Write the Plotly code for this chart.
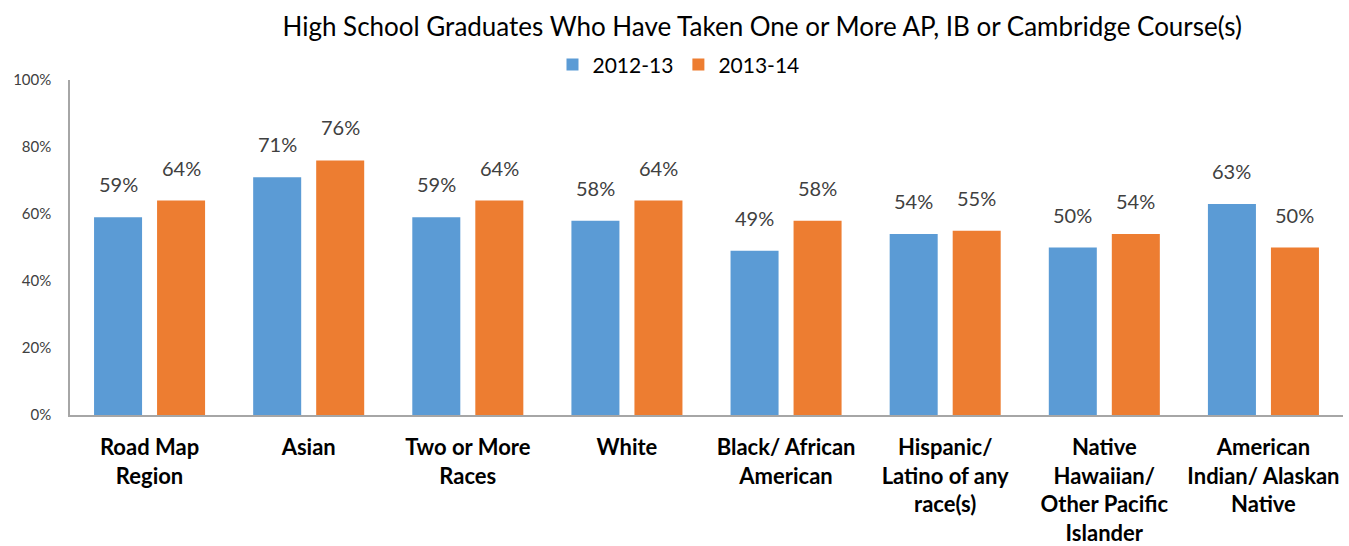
import plotly.graph_objects as go

categories = ["Road Map<br>Region", "Asian", "Two or More<br>Races", "White",
              "Black/ African<br>American", "Hispanic/<br>Latino of any<br>race(s)",
              "Native<br>Hawaiian/<br>Other Pacific<br>Islander", "American<br>Indian/ Alaskan<br>Native"]
series_names = ["2012-13", "2013-14"]
values_2012 = [59, 71, 59, 58, 49, 54, 50, 63]
values_2013 = [64, 76, 64, 64, 58, 55, 54, 50]
y_ticks = [0, 20, 40, 60, 80, 100]
y_tick_labels = ["0%", "20%", "40%", "60%", "80%", "100%"]

colors = ["#5b9bd5", "#ed7d31"]
FONT = "Lato"
label_xshift = [-31.5, 31.5]

fig = go.Figure()
for name, vals, col, xs in zip(series_names, [values_2012, values_2013], colors, label_xshift):
    fig.add_trace(go.Bar(
        x=categories, y=vals, name=name, marker=dict(color=col, line=dict(width=0)),
    ))
    for c, v in zip(categories, vals):
        fig.add_annotation(x=c, y=v, xref="x", yref="y", text=f"{v}%", showarrow=False,
                           xshift=xs, yshift=19, yanchor="bottom",
                           font=dict(family=FONT, size=20, color="#404040"))

fig.update_layout(
    width=1349, height=546,
    margin=dict(l=70, r=6, t=80, b=131),
    paper_bgcolor="white", plot_bgcolor="white",
    barmode="group", bargap=0.208, bargroupgap=0.238,
    title=dict(text="High School Graduates Who Have Taken One or More AP, IB or Cambridge Course(s)",
               x=0.565, xanchor="center", y=0.9505, yref="container", yanchor="middle",
               font=dict(family=FONT, size=26, color="#000000")),
    legend=dict(orientation="h", x=0.478, xanchor="center", y=1.045, yanchor="middle",
                font=dict(family=FONT, size=21, color="#000000"), itemwidth=30,
                traceorder="normal"),
    showlegend=True,
)
fig.update_xaxes(showline=True, linecolor="#a6a6a6", linewidth=1.5, ticks="",
                 tickfont=dict(family=FONT, size=22, color="#000000", weight="bold"),
                 showgrid=False, automargin=False, ticklabelstandoff=12)
fig.update_yaxes(range=[0, 100], tickvals=y_ticks, ticktext=y_tick_labels,
                 showline=True, linecolor="#a6a6a6", linewidth=1.5, showgrid=False,
                 zeroline=False, ticks="", ticklen=0, automargin=False, ticklabelstandoff=14,
                 tickfont=dict(family=FONT, size=15, color="#404040"))

fig.write_html("out.html", config={"displayModeBar": False},
               post_script="document.body.style.margin='0';")
